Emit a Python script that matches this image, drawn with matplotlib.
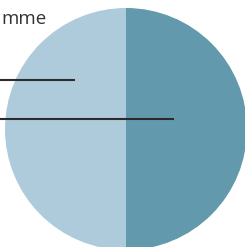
import matplotlib.pyplot as plt

# two equal slices, left light / right dark
shares = [50, 50]
colors = ['#aecbdc', '#6399ad']
label_text = 'mme'

# leader lines (pixel coords): y, x end
leader_y = [80.5, 118.5]
leader_end = [75, 174]

fig = plt.figure(figsize=(2.45, 2.47), dpi=100)
ax = fig.add_axes([0, 0, 1, 1])

ax.pie(shares, colors=colors, startangle=90, center=(126, 129), radius=121,
       frame=True, wedgeprops=dict(linewidth=0))
ax.set_xlim(0, 245)
ax.set_ylim(247, 0)
ax.set_aspect('auto')
ax.axis('off')

for y, xe in zip(leader_y, leader_end):
    ax.plot([0, xe], [y, y], color='#2b2b2b', linewidth=1.5, solid_capstyle='butt')

ax.text(47, 19, label_text, ha='right', va='center', fontsize=13.5,
        family='Open Sans', color='#333333')

fig.savefig('out.png', dpi=100)
